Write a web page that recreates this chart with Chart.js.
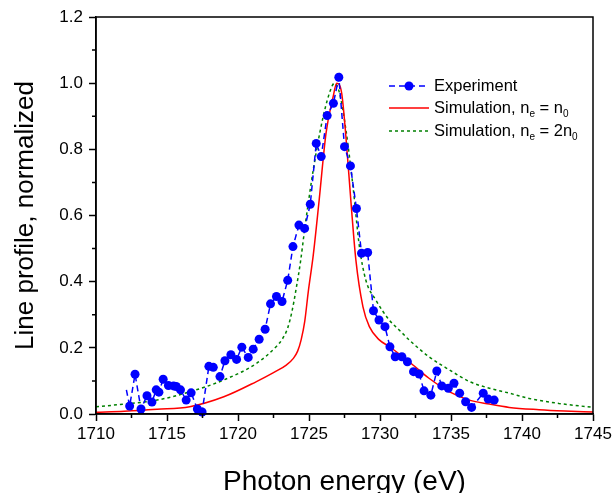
<!DOCTYPE html>
<html>

<head>
  <title>Line profile chart</title>
  <script src="https://cdn.jsdelivr.net/npm/chart.js"></script>
  <style>
    body { margin: 0; background: #fff; }
  </style>
</head>

<body>
  <div style="width:616px;height:493px;position:relative;">
    <canvas id="myChart"></canvas>
  </div>

  <script>
    // experiment, photon energy (eV) / normalized profile
    const expX = [1712.14, 1712.37, 1712.75, 1713.17, 1713.59, 1713.94, 1714.24, 1714.43, 1714.73, 1715.1,
      1715.46, 1715.65, 1715.95, 1716.35, 1716.7, 1717.14, 1717.47, 1717.95, 1718.26, 1718.73,
      1719.08, 1719.5, 1719.9, 1720.27, 1720.72, 1721.07, 1721.49, 1721.91, 1722.29, 1722.71,
      1723.1, 1723.5, 1723.87, 1724.29, 1724.69, 1725.09, 1725.51, 1725.86, 1726.28, 1726.72,
      1727.1, 1727.5, 1727.92, 1728.34, 1728.7, 1729.13, 1729.54, 1729.93, 1730.35, 1730.7,
      1731.07, 1731.54, 1731.93, 1732.36, 1732.76, 1733.1, 1733.58, 1734.0, 1734.35, 1734.81,
      1735.21, 1735.61, 1736.03, 1736.45, 1737.27, 1737.62, 1738.04];
    const expY = [0.073, 0.024, 0.12, 0.015, 0.055, 0.036, 0.073, 0.066, 0.105, 0.086,
      0.085, 0.083, 0.073, 0.042, 0.064, 0.015, 0.006, 0.144, 0.141, 0.113,
      0.161, 0.179, 0.165, 0.202, 0.171, 0.196, 0.226, 0.256, 0.333, 0.355,
      0.34, 0.404, 0.506, 0.571, 0.561, 0.634, 0.818, 0.778, 0.902, 0.939,
      1.018, 0.808, 0.75, 0.621, 0.486, 0.488, 0.312, 0.284, 0.264, 0.203,
      0.173, 0.173, 0.158, 0.128, 0.121, 0.07, 0.057, 0.13, 0.085, 0.078,
      0.093, 0.063, 0.037, 0.02, 0.063, 0.045, 0.042];

    // simulation ne = n0
    const sim1X = [1710, 1712, 1714.3, 1716.6, 1719.0, 1721.3, 1722.5, 1723.4, 1723.9, 1724.2,
      1724.45, 1724.7, 1724.95, 1725.3, 1725.7, 1726.2, 1726.7, 1726.95, 1727.3, 1727.6,
      1727.96, 1728.3, 1728.8, 1729.25, 1729.95, 1730.65, 1732.05, 1733.45, 1734.9, 1736.3,
      1737.7, 1739.1, 1741.2, 1743, 1745];
    const sim1Y = [0.005, 0.008, 0.014, 0.022, 0.052, 0.098, 0.125, 0.148, 0.168, 0.19,
      0.225, 0.28, 0.37, 0.48, 0.64, 0.849, 0.959, 1.0, 0.97, 0.838,
      0.638, 0.466, 0.324, 0.264, 0.224, 0.204, 0.158, 0.108, 0.067, 0.042,
      0.03, 0.02, 0.013, 0.009, 0.006];

    // simulation ne = 2n0
    const sim2X = [1710, 1712, 1714.3, 1716.6, 1719.0, 1721.3, 1722.7, 1723.1, 1723.5, 1723.8,
      1724.1, 1724.4, 1724.7, 1725.3, 1726.0, 1726.6, 1726.8, 1727.15, 1727.6, 1728.1,
      1728.55, 1729.0, 1729.7, 1730.65, 1731.35, 1732.05, 1733.45, 1734.9, 1736.3, 1737.7,
      1739.1, 1740.5, 1742.6, 1745];
    const sim2Y = [0.022, 0.03, 0.042, 0.067, 0.103, 0.153, 0.204, 0.225, 0.26, 0.31,
      0.38, 0.46, 0.56, 0.738, 0.899, 0.989, 1.0, 0.97, 0.859, 0.687,
      0.506, 0.405, 0.345, 0.284, 0.254, 0.224, 0.173, 0.133, 0.098, 0.078,
      0.063, 0.047, 0.032, 0.02];

    const xMin = 1710, xMax = 1745, xStep = 5;
    const yMin = 0, yMax = 1.2, yStep = 0.2;

    const FONT = "'Liberation Sans', Arial, sans-serif";

    const toPoints = (xs, ys) => xs.map((x, i) => ({ x: x, y: ys[i] }));

    // box + minor ticks
    const framePlugin = {
      id: 'frame',
      afterDraw(chart) {
        const { ctx, chartArea: a, scales } = chart;
        ctx.save();
        ctx.strokeStyle = '#000';
        ctx.lineWidth = 1.5;
        ctx.strokeRect(a.left, a.top, a.right - a.left, a.bottom - a.top);
        ctx.beginPath();
        for (let v = xMin + xStep / 2; v < xMax; v += xStep) {
          const px = scales.x.getPixelForValue(v);
          ctx.moveTo(px, a.bottom);
          ctx.lineTo(px, a.bottom + 4);
        }
        for (let v = yMin + yStep / 2; v < yMax; v += yStep) {
          const py = scales.y.getPixelForValue(v);
          ctx.moveTo(a.left, py);
          ctx.lineTo(a.left - 4, py);
        }
        ctx.stroke();
        ctx.restore();
      }
    };

    // legend with subscripts
    const legendPlugin = {
      id: 'subLegend',
      afterDraw(chart) {
        const ctx = chart.ctx;
        const x0 = 389, x1 = 429, tx = 434;
        const rows = [
          { y: 86, color: '#0000FF', dash: [6, 4], dot: true, parts: [['Experiment', 0]] },
          { y: 108, color: '#FF0000', dash: [], dot: false, parts: [['Simulation, n', 0], ['e', 1], [' = n', 0], ['0', 1]] },
          { y: 131, color: '#008000', dash: [3, 3], dot: false, parts: [['Simulation, n', 0], ['e', 1], [' = 2n', 0], ['0', 1]] },
        ];
        ctx.save();
        rows.forEach(r => {
          ctx.strokeStyle = r.color;
          ctx.lineWidth = 1.5;
          ctx.setLineDash(r.dash);
          ctx.beginPath();
          ctx.moveTo(x0, r.y);
          ctx.lineTo(x1, r.y);
          ctx.stroke();
          ctx.setLineDash([]);
          if (r.dot) {
            ctx.fillStyle = r.color;
            ctx.beginPath();
            ctx.arc((x0 + x1) / 2, r.y, 4.5, 0, Math.PI * 2);
            ctx.fill();
          }
          let x = tx;
          ctx.fillStyle = '#000';
          ctx.textBaseline = 'middle';
          r.parts.forEach(([s, sub]) => {
            ctx.font = sub ? '10px ' + FONT : '16.5px ' + FONT;
            ctx.fillText(s, x, r.y + (sub ? 6 : 0));
            x += ctx.measureText(s).width;
          });
        });
        ctx.restore();
      }
    };

    const config = {
      type: 'line',
      data: {
        datasets: [
          {
            label: 'Experiment',
            data: toPoints(expX, expY),
            borderColor: '#0000FF',
            backgroundColor: '#0000FF',
            borderWidth: 1.5,
            borderDash: [6, 4],
            pointRadius: ctx => ctx.dataIndex === 0 ? 0 : 4.5,
            pointBorderWidth: 0,
            pointBackgroundColor: '#0000FF',
            tension: 0,
            clip: 8,
          },
          {
            label: 'Simulation, ne = n0',
            data: toPoints(sim1X, sim1Y),
            borderColor: '#FF0000',
            borderWidth: 1.5,
            pointRadius: 0,
            cubicInterpolationMode: 'monotone',
          },
          {
            label: 'Simulation, ne = 2n0',
            data: toPoints(sim2X, sim2Y),
            borderColor: '#008000',
            borderWidth: 1.5,
            borderDash: [3, 3],
            pointRadius: 0,
            cubicInterpolationMode: 'monotone',
          },
        ]
      },
      options: {
        responsive: true,
        maintainAspectRatio: false,
        animation: false,
        layout: { padding: { top: 17, right: 23, left: 0, bottom: 0 } },
        scales: {
          x: {
            type: 'linear',
            min: xMin,
            max: xMax,
            afterFit: s => { s.height = 79; },
            grid: { drawOnChartArea: false, tickLength: 7, tickColor: '#000', tickWidth: 1.5 },
            border: { color: '#000', width: 1.5 },
            ticks: {
              stepSize: xStep,
              color: '#000',
              font: { size: 17, family: FONT },
              padding: 3,
              maxRotation: 0,
              autoSkip: false,
              callback: v => String(v),
            },
            title: {
              display: true,
              text: 'Photon energy (eV)',
              color: '#000',
              font: { size: 28, family: FONT, lineHeight: 1.0 },
              padding: { top: 0, bottom: -3 },
            },
          },
          y: {
            min: yMin,
            max: yMax,
            afterFit: s => { s.width = 96; },
            grid: { drawOnChartArea: false, tickLength: 7, tickColor: '#000', tickWidth: 1.5 },
            border: { color: '#000', width: 1.5 },
            ticks: {
              stepSize: yStep,
              color: '#000',
              font: { size: 17, family: FONT },
              padding: 6,
              callback: v => Number(v).toFixed(1),
            },
            title: {
              display: true,
              text: 'Line profile, normalized',
              color: '#000',
              font: { size: 26, family: FONT, lineHeight: 1.0 },
              padding: { top: 13, bottom: 0 },
            },
          },
        },
        plugins: {
          legend: { display: false },
          tooltip: { enabled: false },
        }
      },
      plugins: [framePlugin, legendPlugin]
    };

    var myChart = new Chart(document.getElementById('myChart'), config);
  </script>
</body>

</html>
